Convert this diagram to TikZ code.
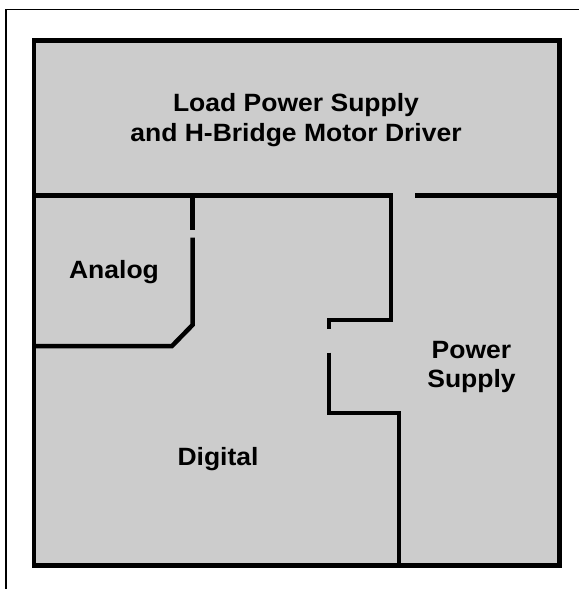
\documentclass[tikz,border=0pt]{standalone}
\usepackage{fontspec}
\setmainfont{Liberation Sans}[FakeStretch=1.06]
\begin{document}
\begin{tikzpicture}[x=1pt,y=-1pt,
  wall/.style={line width=4.5pt,line join=miter,line cap=rect},
  lbl/.style={font=\bfseries\fontsize{25}{30}\selectfont,align=center,inner sep=0pt}]
\useasboundingbox (0,0) rectangle (579,589);
\draw[line width=1.2pt] (6,589) -- (6,9.3) -- (579,9.3);
\fill[fill={rgb,255:red,204;green,204;blue,204}] (34,40.5) rectangle (559.5,565.5);
\draw[line width=4.5pt] (34,40.5) rectangle (559.5,565.5);
% dividers
\draw[wall] (34,195.5) -- (391,195.5) -- (391,320) -- (329.2,320) -- (329.2,327);
\draw[wall,line cap=butt] (415,195.5) -- (559.5,195.5);
\draw[wall,line cap=butt] (192.5,195.5) -- (192.5,229.5);
\draw[wall,line cap=butt] (192.5,237.5) -- (192.5,325) -- (172,346) -- (34,346);
\draw[wall,line cap=butt] (329.2,352.5) -- (329.2,413) -- (399,413) -- (399,565.5);
% labels
\node[lbl,anchor=base] (load) at (296,111.7) {Load Power Supply};
\node[lbl,anchor=base] (load2) at (296,141.7) {and H-Bridge Motor Driver};
\node[lbl,anchor=base] (analog) at (114,278) {Analog};
\node[lbl,anchor=base] (power) at (471.5,358) {Power};
\node[lbl,anchor=base] (supply) at (471.5,387) {Supply};
\node[lbl,anchor=base] (digital) at (218,465) {Digital};
\end{tikzpicture}
\end{document}
